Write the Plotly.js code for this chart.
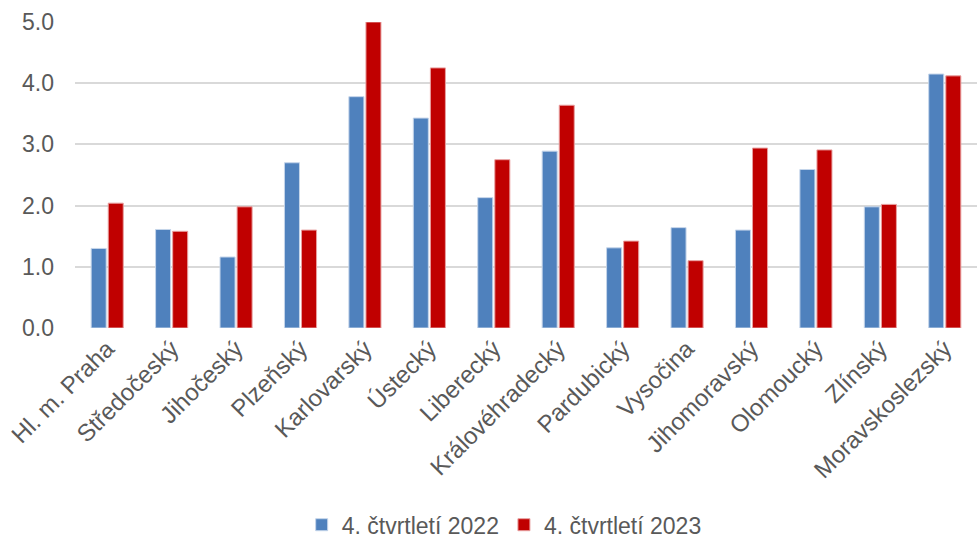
<!DOCTYPE html>
<html>
<head>
<meta charset="utf-8">
<script src="https://cdn.plot.ly/plotly-3.0.1.min.js"></script>
<style>html,body{margin:0;padding:0;background:#fff;}#chart{width:979px;height:539px;}</style>
</head>
<body>
<div id="chart"></div>
<script>
const categories = ["Hl. m. Praha","Středočeský","Jihočeský","Plzeňský","Karlovarský","Ústecký","Liberecký","Královéhradecký","Pardubický","Vysočina","Jihomoravský","Olomoucký","Zlínský","Moravskoslezský"];
const series2022 = [1.30,1.61,1.16,2.70,3.78,3.43,2.13,2.89,1.31,1.64,1.60,2.59,1.98,4.15];
const series2023 = [2.04,1.58,1.98,1.60,5.00,4.25,2.75,3.64,1.42,1.10,2.94,2.91,2.02,4.12];
const seriesNames = ["4. čtvrtletí 2022","4. čtvrtletí 2023"];
const yTicks = [0,1,2,3,4,5];
const yTickText = ["0.0","1.0","2.0","3.0","4.0","5.0"];

const font = "'Liberation Sans', Arial, sans-serif";
const data = [
  {type:'bar', x:categories, y:series2022, name:seriesNames[0],
   marker:{color:'#4F81BD', line:{color:'#C5D5EA', width:1}}, hoverinfo:'x+y'},
  {type:'bar', x:categories, y:series2023, name:seriesNames[1],
   marker:{color:'#C00000', line:{color:'#E8A0A0', width:1}}, hoverinfo:'x+y'}
];
const layout = {
  width:979, height:539,
  margin:{l:75, r:2, t:22, b:211, autoexpand:false},
  paper_bgcolor:'#fff', plot_bgcolor:'#fff',
  barmode:'group', bargap:0.47, bargroupgap:0.12,
  font:{family:font, color:'#595959', size:23},
  xaxis:{type:'category', tickangle:-45, showgrid:false, showline:false, zeroline:false, automargin:false,
         ticks:'', tickfont:{size:24, color:'#595959'}, ticklabelstandoff:1},
  yaxis:{range:[0,5], tickvals:yTicks, ticktext:yTickText, showgrid:true, automargin:false,
         gridcolor:'#D9D9D9', gridwidth:2, zeroline:false, showline:false, ticks:'',
         tickfont:{size:23, color:'#595959'}, ticklabelstandoff:20},
  showlegend:true,
  legend:{orientation:'h', x:0.515, xanchor:'center', xref:'container', y:-0.643, yanchor:'middle', yref:'paper',
          font:{size:23, color:'#595959'}, itemwidth:20, tracegroupgap:0},
};
Plotly.newPlot('chart', data, layout, {displayModeBar:false, staticPlot:true});
</script>
</body>
</html>
